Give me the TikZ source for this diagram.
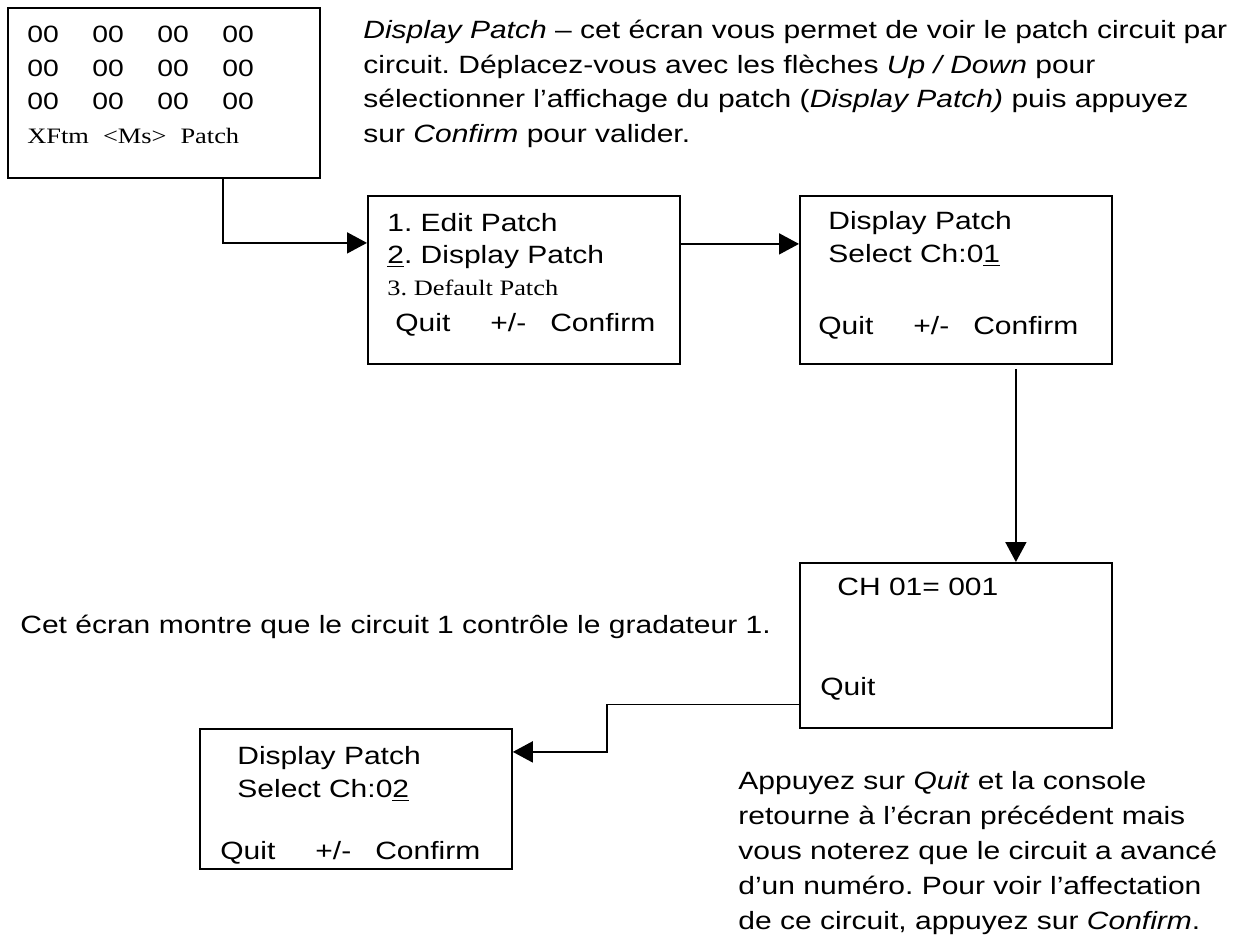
\documentclass[tikz,border=0pt]{standalone}
\usepackage{fontspec}
\setmainfont{Liberation Sans}[FakeStretch=1.2]
\newfontfamily\timesfont{Liberation Serif}[FakeStretch=1.2]
\usetikzlibrary{arrows.meta,positioning,calc}
\frenchspacing

\newcommand{\zz}{\makebox[32.5pt][l]{00}}
\newcommand{\keyline}{Quit\hspace{20pt}+/-\hspace{12pt}Confirm}

\begin{document}
\begin{tikzpicture}[
  x=0.5pt, y=-0.5pt,
  screen/.style={draw, line width=0.9pt, anchor=north west, inner sep=0pt,
                 minimum width=156pt},
  scrtext/.style={anchor=north west, inner sep=0pt, align=left,
                  font=\fontsize{12.5}{16.5}\selectfont},
  para/.style={anchor=north west, inner sep=0pt, align=left,
               font=\fontsize{12.5}{17.25}\selectfont},
  arr/.style={line width=0.9pt, -{Triangle[length=10pt,width=10.5pt]}}
]
\useasboundingbox (0,0) rectangle (1237,938);

% ---- screens ----
\node[screen, minimum height=85pt]   (patch) at (7,7)     {};
\node[screen, minimum height=84pt]   (menu)  at (367,195) {};
\node[screen, minimum height=84pt]   (sel1)  at (799,195) {};
\node[screen, minimum height=82.5pt] (chan)  at (799,562) {};
\node[screen, minimum height=70pt]   (sel2)  at (199,728) {};

% ---- screen contents ----
\node[scrtext, font=\fontsize{11.8}{16.75}\selectfont] (patch-txt) at (27,26)
  {\zz\zz\zz 00\\ \zz\zz\zz 00\\ \zz\zz\zz 00\\
   {\timesfont\fontsize{11}{13}\selectfont XFtm\hspace{7pt}<Ms>\hspace{7pt}Patch}};
\node[scrtext, font=\fontsize{12.5}{16}\selectfont] (menu-txt) at (387,213)
  {1. Edit Patch\\ \underline{2}. Display Patch\\
   {\timesfont\fontsize{11}{13}\selectfont 3. Default Patch}\\[2pt]
   \hspace*{4pt}\keyline};
\node[scrtext] (sel1-txt) at (818,211)
  {\hspace*{5pt}Display Patch\\ \hspace*{5pt}Select Ch:0\underline{1}\\[19.5pt]
   \keyline};
\node[scrtext] (chan-txt) at (820,578)
  {\hspace*{8.5pt}CH 01= 001\\[33.5pt] Quit};
\node[scrtext] (sel2-txt) at (220,746)
  {\hspace*{8.5pt}Display Patch\\ \hspace*{8.5pt}Select Ch:0\underline{2}\\[14.5pt]
   \keyline};

% ---- notes ----
\node[para] (intro) at (363,20)
  {\textit{Display Patch} – cet écran vous permet de voir le patch circuit par\\
   circuit. Déplacez-vous avec les flèches \textit{Up / Down} pour\\
   sélectionner l’affichage du patch (\textit{Display Patch)} puis appuyez\\
   sur \textit{Confirm} pour valider.};
\node[para] (note) at (20,615)
  {Cet écran montre que le circuit 1 contrôle le gradateur 1.};
\node[para, font=\fontsize{12.5}{17.5}\selectfont] (back) at (738,771)
  {Appuyez sur \textit{Quit} et la console\\
   retourne à l’écran précédent mais\\
   vous noterez que le circuit a avancé\\
   d’un numéro. Pour voir l’affectation\\
   de ce circuit, appuyez sur \textit{Confirm}.};

% ---- links ----
\draw[arr] ($(patch.south)+(59,0)$) |- ($(menu.west)+(0,-37)$);
\draw[arr] ($(menu.east)+(0,-36)$) -- ($(sel1.west)+(0,-36)$);
\draw[arr] ($(sel1.south)+(60,4)$) -- ($(chan.north)+(60,0)$);
\draw[arr] ($(chan.west)+(0,59)$) -- ++(-192,0) |- ($(sel2.east)+(0,-47)$);
\end{tikzpicture}
\end{document}
